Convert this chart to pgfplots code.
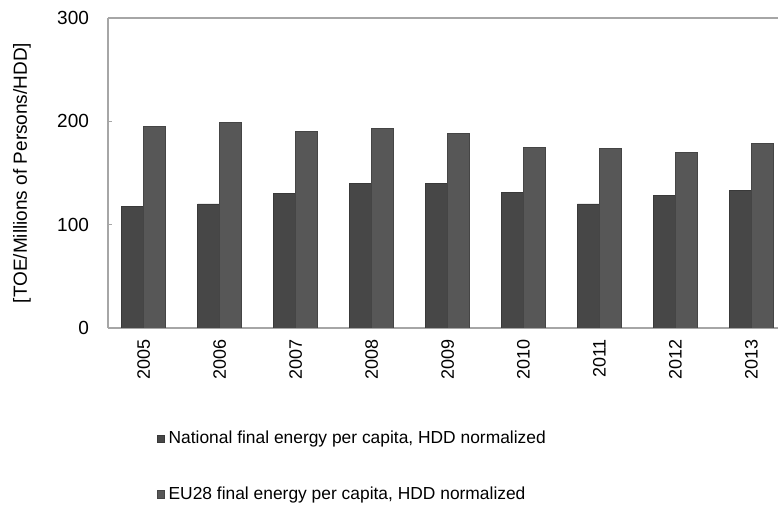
\documentclass[border=0pt]{standalone}
\usepackage{pgfplots}
\pgfplotsset{compat=1.18}
\usepackage{fontspec}
\setmainfont{Liberation Sans}
\definecolor{natc}{gray}{0.28}
\definecolor{euc}{gray}{0.34}
\begin{document}
\begin{tikzpicture}
\useasboundingbox (-54pt,-92pt) rectangle (336pt,164pt);
\begin{axis}[
  scale only axis, width=335pt, height=155pt,
  ybar=0pt, bar width=11pt,
  ymin=0, ymax=300, ytick={0,100,200,300},
  xmin=-0.47, xmax=8.35,
  xtick={0,...,8},
  xticklabels={2005,2006,2007,2008,2009,2010,2011,2012,2013},
  x tick label style={rotate=90, anchor=east, font=\fontsize{9}{10}\selectfont},
  y tick label style={font=\fontsize{9.5}{10}\selectfont, xshift=-6pt},
  /pgf/number format/assume math mode=true,
  axis x line*=bottom, axis y line*=left,
  axis line style={gray!70, line width=0.6pt},
  x axis line style={-}, y axis line style={-},
  major tick length=2pt,
  xtick style={draw=none},
  ytick style={gray!70},
  ylabel={[TOE/Millions of Persons/HDD]},
  every axis y label/.style={at={(rel axis cs:0,0.5)}, xshift=-43pt, rotate=90, anchor=center, font=\fontsize{9.5}{10}\selectfont},
  legend style={at={(0.063,-0.305)}, anchor=north west, draw=none, fill=none,
    font=\fontsize{8.7}{10}\selectfont, row sep=16pt, legend cell align=left},
  legend image code/.code={\fill[#1] (0pt,-1.8pt) rectangle (3.6pt,1.8pt);},
  after end axis/.code={\draw[gray!70, line width=0.6pt] (rel axis cs:0,1) -- (rel axis cs:1,1);},
]
\addplot[fill=natc, draw=natc!80!black] coordinates {
 (0,118) (1,120) (2,130) (3,140) (4,140) (5,131) (6,120) (7,128) (8,133)};
\addplot[fill=euc, draw=euc!80!black] coordinates {
 (0,195) (1,199) (2,190) (3,193) (4,188) (5,175) (6,174) (7,170) (8,179)};
\legend{{National final energy per capita, HDD normalized}, {EU28 final energy per capita, HDD normalized}}
\end{axis}
\end{tikzpicture}
\end{document}
